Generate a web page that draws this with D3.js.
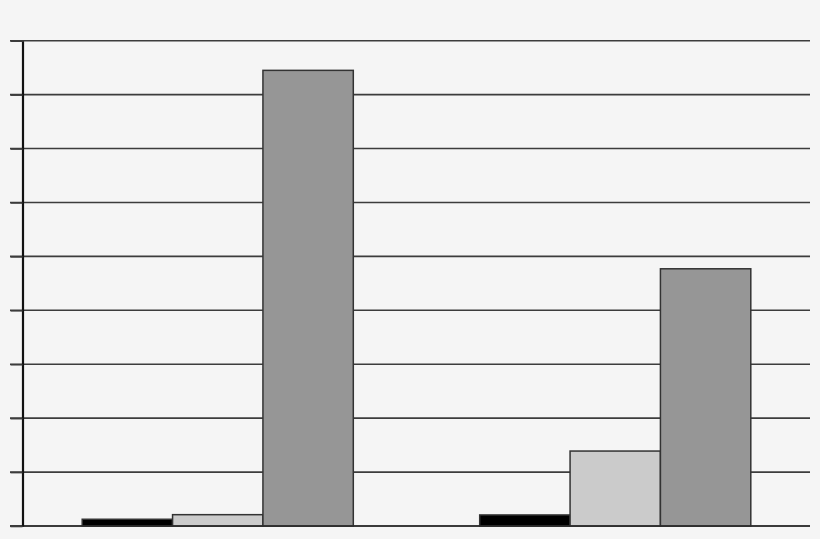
<!DOCTYPE html>
<html>
<head>
<meta charset="utf-8">
<script src="https://cdn.jsdelivr.net/npm/d3@7"></script>
<style>
  body { margin: 0; background: #f5f5f5; }
</style>
</head>
<body>
<div id="chart"></div>
<script>
// data (no labels in the original)
const groups = ["A", "B"];
const series = ["s1", "s2", "s3"];
const valuesA = [1.25, 2.1, 84.5];
const valuesB = [2.05, 13.9, 47.7];
const yTicks = [0, 10, 20, 30, 40, 50, 60, 70, 80, 90];
const colors = ["#000000", "#cbcbcb", "#969696"];

const width = 820;
const height = 539;

const svg = d3
  .select("#chart")
  .append("svg")
  .attr("width", width)
  .attr("height", height)
  .style("background", "#f5f5f5");

// scales
const y = d3.scaleLinear().domain([0, 90]).range([526, 40.7]);

const x0 = d3
  .scaleBand()
  .domain(groups)
  .range([19, 814])
  .paddingInner(0.318)
  .paddingOuter(0.159);

const x1 = d3.scaleBand().domain(series).range([0, x0.bandwidth()]);

// horizontal grid
svg
  .selectAll(".grid")
  .data(yTicks)
  .join("line")
  .attr("class", "grid")
  .attr("x1", 10)
  .attr("x2", 810)
  .attr("y1", (d) => y(d))
  .attr("y2", (d) => y(d))
  .attr("stroke", "#3c3c3c")
  .attr("stroke-width", 1.6);

// bars
const data = groups.map((g, i) => ({
  group: g,
  values: (i === 0 ? valuesA : valuesB).map((v, j) => ({ key: series[j], value: v }))
}));

svg
  .selectAll(".group")
  .data(data)
  .join("g")
  .attr("class", "group")
  .attr("transform", (d) => `translate(${x0(d.group)},0)`)
  .selectAll("rect")
  .data((d) => d.values)
  .join("rect")
  .attr("x", (d) => x1(d.key))
  .attr("width", x1.bandwidth())
  .attr("y", (d) => y(d.value))
  .attr("height", (d) => y(0) - y(d.value))
  .attr("fill", (d, i) => colors[i])
  .attr("stroke", "#333")
  .attr("stroke-width", 1.5);

// baseline again on top
svg
  .append("line")
  .attr("x1", 10)
  .attr("x2", 810)
  .attr("y1", y(0))
  .attr("y2", y(0))
  .attr("stroke", "#2a2a2a")
  .attr("stroke-width", 1.6);

// y axis, no labels
svg
  .append("g")
  .attr("transform", "translate(22.5,0)")
  .call(d3.axisLeft(y).tickValues(yTicks).tickSizeInner(12).tickSizeOuter(0).tickFormat(""))
  .call((g) => g.select(".domain").attr("stroke", "#111").attr("stroke-width", 2.2))
  .call((g) => g.selectAll(".tick line").attr("stroke", "#3c3c3c").attr("stroke-width", 1.6));
</script>
</body>
</html>
